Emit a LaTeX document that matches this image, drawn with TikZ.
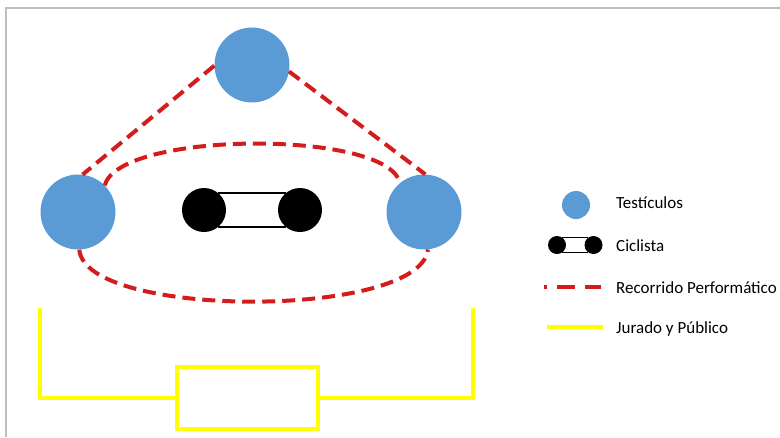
\documentclass[tikz,border=0pt]{standalone}
\usepackage{fontspec}
\setmainfont{Carlito}
\definecolor{ballblue}{RGB}{91,155,213}
\definecolor{routered}{RGB}{212,28,28}
\definecolor{juryyellow}{RGB}{255,255,0}
\definecolor{framegray}{RGB}{190,190,190}
\tikzset{
  ball/.style={circle, fill=ballblue, draw=none, minimum size=75pt, inner sep=0pt},
  wheel/.style={circle, fill=black, draw=none, minimum size=44pt, inner sep=0pt},
  smallwheel/.style={circle, fill=black, draw=none, minimum size=18pt, inner sep=0pt},
  frame/.style={draw=black, line width=2.8pt},
  route/.style={draw=routered, line width=4pt, dash pattern=on 13pt off 7pt},
  jury/.style={draw=juryyellow, line width=3.5pt},
  label/.style={anchor=base west, inner sep=0pt, font=\fontsize{17pt}{20pt}\selectfont}
}
\begin{document}
\begin{tikzpicture}[x=1pt, y=-1pt]
  \useasboundingbox (0,0) rectangle (780,437);
  % outer frame, open to the right and bottom
  \draw[framegray, line width=1.5pt] (6,437) -- (6,8) -- (780,8);

  % performance route (drawn first, balls on top)
  \coordinate (topc) at (252,65);
  \coordinate (lftc) at (78,212);
  \coordinate (rgtc) at (424,212);
  \path (topc) node[ball] (top) {};
  \path (lftc) node[ball] (lft) {};
  \path (rgtc) node[ball] (rgt) {};
  \draw[route] (top.181) -- (lft.83);
  \draw[route] (top.-10) -- (rgt.88);
  \draw[route] (lft.45) .. controls (120,130) and (390,130) .. (rgt.130);
  \draw[route] (lft.-88) .. controls (85,319) and (420,319) .. (rgt.-84);

  % cyclist
  \node[wheel] (wl) at (204,210) {};
  \node[wheel] (wr) at (300,210) {};
  \draw[frame] (wl.50) -- (wr.130);
  \draw[frame] (wl.-50) -- (wr.-130);

  % jury and audience
  \node[jury, minimum width=141pt, minimum height=62pt, inner sep=0pt] (mesa) at (247.5,398) {};
  \coordinate (jl) at (40,308);
  \coordinate (jr) at (473,308);
  \draw[jury, line join=miter] (jl) |- (mesa.west);
  \draw[jury, line join=miter] (jr) |- (mesa.east);

  % legend
  \node[circle, fill=ballblue, minimum size=28pt, inner sep=0pt] (lgball) at (576,205) {};
  \node[label] (lgballtxt) at (616,208) {Testículos};

  \node[smallwheel] (lgwl) at (557,245) {};
  \node[smallwheel] (lgwr) at (593.5,245) {};
  \draw[black, line width=1.6pt] (lgwl.55) -- (lgwr.125);
  \draw[black, line width=1.6pt] (lgwl.-55) -- (lgwr.-125);
  \node[label] (lgcyctxt) at (616,251) {Ciclista};

  \coordinate (lgr1) at (544,287);
  \coordinate (lgr2) at (601,287);
  \draw[draw=routered, line width=4pt, dash pattern=on 18pt off 10pt, dash phase=15pt] (lgr1) -- (lgr2);
  \node[label] (lgroutetxt) at (616,293) {Recorrido Performático};

  \coordinate (lgy1) at (547,327);
  \coordinate (lgy2) at (603,327);
  \draw[jury] (lgy1) -- (lgy2);
  \node[label] (lgjurytxt) at (616,333) {Jurado y Público};
\end{tikzpicture}
\end{document}
